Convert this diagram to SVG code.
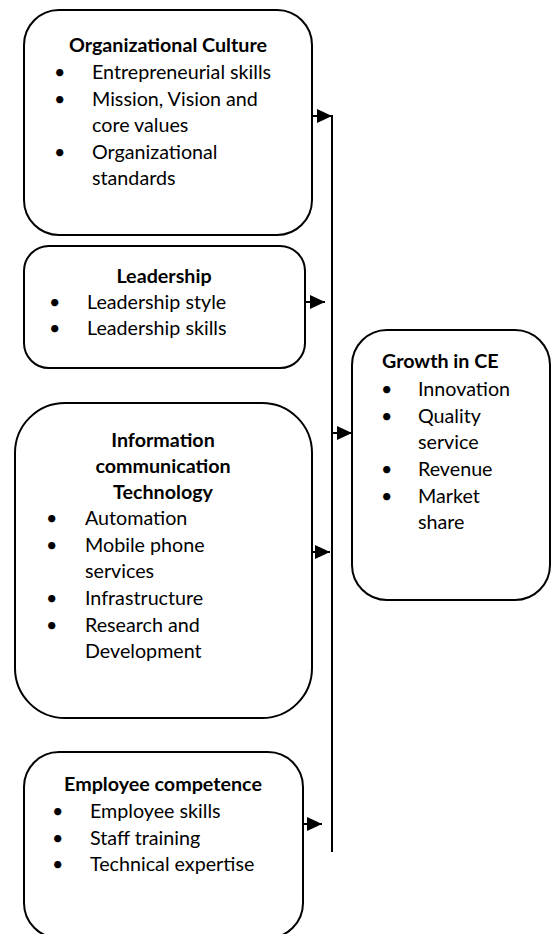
<svg xmlns="http://www.w3.org/2000/svg" width="552" height="934" viewBox="0 0 552 934">
<defs>
<style>
.box{fill:#fff;stroke:#000;stroke-width:2}
.t{font-family:Lato,"Liberation Sans",sans-serif;font-size:19.7px;fill:#000}
.b{font-weight:bold}
.c{text-anchor:middle}
.ln{stroke:#000;stroke-width:2;fill:none}
</style>
<marker id="ah" markerUnits="userSpaceOnUse" markerWidth="16" markerHeight="14" refX="15" refY="7" orient="auto">
<path d="M0,0 L15,7 L0,14 Z" fill="#000"/>
</marker>
</defs>
<rect width="552" height="934" fill="#fff"/>
<g id="connectors">
<line class="ln" x1="332" y1="115" x2="332" y2="852"/>
<line class="ln" x1="312" y1="116" x2="332" y2="116" marker-end="url(#ah)"/>
<line class="ln" x1="305" y1="302" x2="325" y2="302" marker-end="url(#ah)"/>
<line class="ln" x1="332" y1="433" x2="352" y2="433" marker-end="url(#ah)"/>
<line class="ln" x1="312" y1="552" x2="330" y2="552" marker-end="url(#ah)"/>
<line class="ln" x1="303" y1="824" x2="322" y2="824" marker-end="url(#ah)"/>
</g>
<g id="org-culture">
<rect class="box" x="24" y="10" width="288" height="225" rx="35"/>
<text class="t b c" x="168" y="52">Organizational Culture</text>
<g class="t">
<text x="54" y="79">•</text><text x="92" y="79">Entrepreneurial skills</text>
<text x="54" y="105.5">•</text><text x="92" y="105.5">Mission, Vision and</text>
<text x="92" y="132">core values</text>
<text x="54" y="158.5">•</text><text x="92" y="158.5">Organizational</text>
<text x="92" y="185">standards</text>
</g>
</g>
<g id="leadership">
<rect class="box" x="24" y="246" width="281" height="122" rx="25"/>
<text class="t b c" x="164" y="283">Leadership</text>
<g class="t">
<text x="49" y="309">•</text><text x="87" y="309">Leadership style</text>
<text x="49" y="335">•</text><text x="87" y="335">Leadership skills</text>
</g>
</g>
<g id="ict">
<rect class="box" x="15" y="403" width="297" height="315" rx="50"/>
<text class="t b c" x="163" y="447">Information</text>
<text class="t b c" x="163" y="473">communication</text>
<text class="t b c" x="163" y="499">Technology</text>
<g class="t">
<text x="46" y="525">•</text><text x="85" y="525">Automation</text>
<text x="46" y="552">•</text><text x="85" y="552">Mobile phone</text>
<text x="85" y="578">services</text>
<text x="46" y="605">•</text><text x="85" y="605">Infrastructure</text>
<text x="46" y="632">•</text><text x="85" y="632">Research and</text>
<text x="85" y="658">Development</text>
</g>
</g>
<g id="employee">
<rect class="box" x="24" y="752" width="279" height="186" rx="35"/>
<text class="t b c" x="163" y="791">Employee competence</text>
<g class="t">
<text x="52" y="818">•</text><text x="90" y="818">Employee skills</text>
<text x="52" y="845">•</text><text x="90" y="845">Staff training</text>
<text x="52" y="871">•</text><text x="90" y="871">Technical expertise</text>
</g>
</g>
<g id="growth">
<rect class="box" x="352" y="330" width="198" height="270" rx="35"/>
<text class="t b" x="382" y="368">Growth in CE</text>
<g class="t">
<text x="381" y="396">•</text><text x="418" y="396">Innovation</text>
<text x="381" y="423">•</text><text x="418" y="423">Quality</text>
<text x="418" y="449">service</text>
<text x="381" y="476">•</text><text x="418" y="476">Revenue</text>
<text x="381" y="503">•</text><text x="418" y="503">Market</text>
<text x="418" y="529">share</text>
</g>
</g>
</svg>
